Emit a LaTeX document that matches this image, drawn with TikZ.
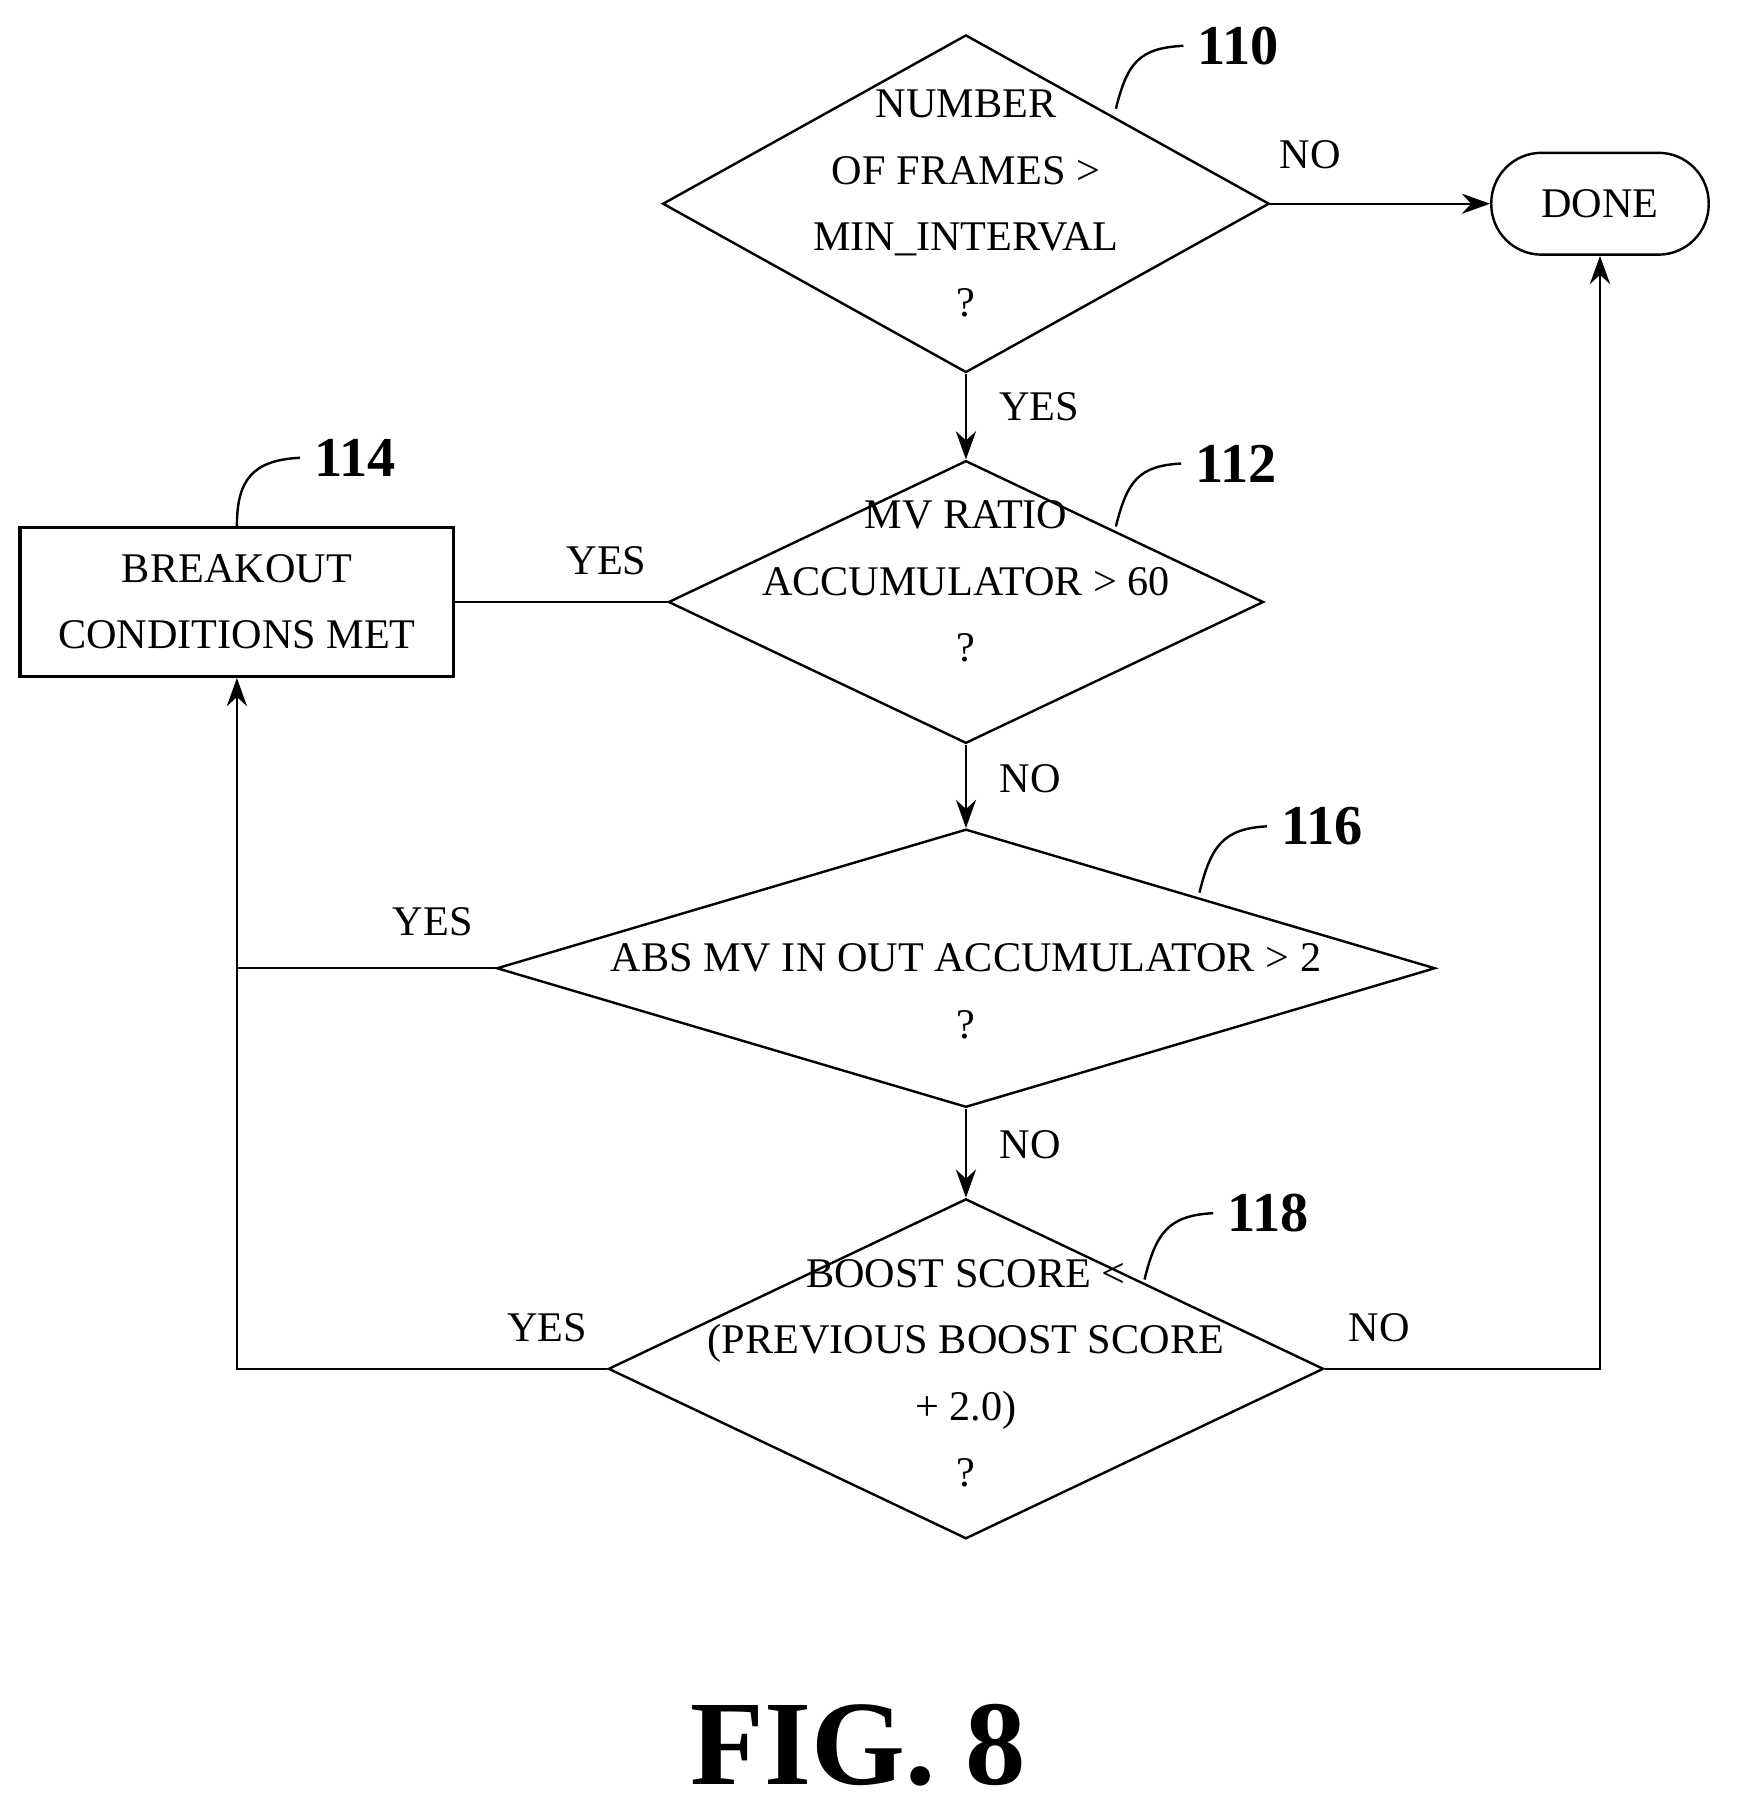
\documentclass[tikz,border=0pt]{standalone}
\usepackage{fontspec}
\setmainfont{Liberation Serif}
\usetikzlibrary{shapes.geometric,arrows.meta}
\tikzset{
  dia/.style={draw, shape=diamond, inner sep=0pt, line width=0.6pt},
  txt/.style={align=center, font=\fontsize{10.5}{16.5}\selectfont},
  lbl/.style={font=\fontsize{10.5}{12}\selectfont},
  ref/.style={font=\fontsize{14}{16}\selectfont\bfseries},
  flow/.style={line width=0.6pt, -{Stealth[length=7pt,width=5pt]}},
  line/.style={line width=0.6pt}
}
\begin{document}
\begin{tikzpicture}
        \useasboundingbox (0, 0) rectangle (15.23, -15.78);

        % decisions
        \node[dia, minimum width=5.3cm, minimum height=2.95cm] (d110) at (8.44, -1.78) {};
        \node[txt] at (d110) {NUMBER\\OF FRAMES >\\MIN\_INTERVAL\\?};
        \node[dia, minimum width=5.2cm, minimum height=2.47cm] (d112) at (8.44, -5.26) {};
        \node[txt] at (8.44, -5.08) {MV RATIO\\ACCUMULATOR > 60\\?};
        \node[dia, minimum width=8.2cm, minimum height=2.43cm] (d116) at (8.44, -8.46) {};
        \node[txt] at (8.44, -8.66) {ABS MV IN OUT ACCUMULATOR > 2\\?};
        \node[dia, minimum width=6.25cm, minimum height=2.97cm] (d118) at (8.44, -11.96) {};
        \node[txt] at (8.44, -12.0) {BOOST SCORE <\\(PREVIOUS BOOST SCORE\\+ 2.0)\\?};

        % terminals
        \node[draw, line width=0.6pt, rounded corners=0.44cm, minimum width=1.9cm, minimum height=0.89cm, txt] (done) at (13.98, -1.78) {DONE};
        \node[draw, line width=0.8pt, minimum width=3.79cm, minimum height=1.3cm, txt] (b114) at (2.07, -5.26) {BREAKOUT\\CONDITIONS MET};

        % connectors
        \draw[flow] (d110.east) -- (done.west);
        \draw[flow] (d110.south) -- (d112.north);
        \draw[flow] (d112.south) -- (d116.north);
        \draw[flow] (d116.south) -- (d118.north);
        \draw[line] (d112.west) -- (b114.east);
        \coordinate (j116) at (b114.south |- d116.west);
        \draw[line] (d116.west) -- (j116);
        \draw[flow] (d118.west) -| (b114.south);
        \draw[flow] (d118.east) -| (done.south);

        % branch labels
        \node[lbl] at (11.45, -1.35) {NO};
        \node[lbl] at (9.08, -3.55) {YES};
        \node[lbl] at (5.3, -4.9) {YES};
        \node[lbl] at (9.0, -6.8) {NO};
        \node[lbl] at (3.78, -8.05) {YES};
        \node[lbl] at (9.0, -10.0) {NO};
        \node[lbl] at (4.78, -11.6) {YES};
        \node[lbl] at (12.05, -11.6) {NO};

        % reference numerals
        \node[ref] (n110) at (10.82, -0.4) {110};
        \draw[line] (9.75, -0.95) .. controls (9.85, -0.55) and (9.95, -0.42) .. (n110.west);
        \node[ref] (n112) at (10.8, -4.05) {112};
        \draw[line] (9.75, -4.6) .. controls (9.85, -4.2) and (9.95, -4.07) .. (n112.west);
        \node[ref] (n114) at (3.1, -4.0) {114};
        \draw[line] (b114.north) .. controls (2.07, -4.2) and (2.2, -4.02) .. (n114.west);
        \node[ref] (n116) at (11.55, -7.22) {116};
        \draw[line] (10.48, -7.8) .. controls (10.58, -7.4) and (10.68, -7.24) .. (n116.west);
        \node[ref] (n118) at (11.08, -10.6) {118};
        \draw[line] (10.0, -11.18) .. controls (10.1, -10.78) and (10.2, -10.62) .. (n118.west);

        \node[font=\fontsize{30}{34}\selectfont\bfseries] (fig) at (7.5, -15.25) {FIG. 8};
    \end{tikzpicture}
\end{document}
